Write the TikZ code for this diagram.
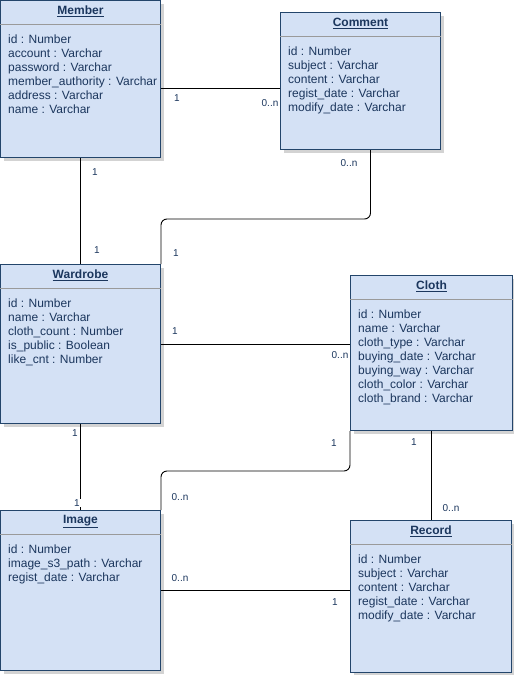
\documentclass[tikz,border=0pt]{standalone}
\usepackage{fontspec}
\setmainfont{Liberation Sans}
\usetikzlibrary{shadows}
\definecolor{boxfill}{HTML}{D4E1F5}
\definecolor{boxline}{HTML}{23456B}
\definecolor{ink}{HTML}{1B365D}
\definecolor{rulegray}{HTML}{9A9A9A}
\tikzset{
  entity/.style={draw=boxline, fill=boxfill, line width=1pt, anchor=north west,
    inner sep=0pt, drop shadow={shadow xshift=3pt, shadow yshift=-3pt, opacity=0.35, fill=gray}},
  etitle/.style={anchor=center, font=\fontsize{12}{14}\selectfont\bfseries, text=ink, inner sep=0pt},
  attrs/.style={anchor=north west, align=left, font=\fontsize{12}{14}\selectfont, text=ink, inner sep=0pt},
  divider/.style={draw=rulegray, line width=0.8pt},
  link/.style={draw=black, line width=0.9pt, rounded corners=6pt},
  mult/.style={font=\fontsize{10}{12}\selectfont, text=ink, inner sep=0pt},
}
% entity box: name, x, y, width, height, title, attribute lines
\newcommand\erbox[7]{%
  \node[entity, minimum width=#4pt, minimum height=#5pt] (#1) at (#2,#3) {};
  \draw[divider] ([yshift=-24pt]#1.north west) -- ([yshift=-24pt]#1.north east);
  \node[etitle] (#1-title) at ([yshift=-11.5pt]#1.north) {\underline{#6}};
  \node[attrs] (#1-attrs) at ([xshift=8pt,yshift=-35pt]#1.north west) {#7};
}
\begin{document}
\begin{tikzpicture}[x=1pt,y=-1pt]
\useasboundingbox (0,0) rectangle (514,675);

\erbox{member}{0}{0}{160}{157}{Member}{id : Number\\account : Varchar\\password : Varchar\\member\_authority : Varchar\\address : Varchar\\name : Varchar}
\erbox{comment}{280}{12}{160}{137}{Comment}{id : Number\\subject : Varchar\\content : Varchar\\regist\_date : Varchar\\modify\_date : Varchar}
\erbox{wardrobe}{0}{264}{160}{159}{Wardrobe}{id : Number\\name : Varchar\\cloth\_count : Number\\is\_public : Boolean\\like\_cnt : Number}
\erbox{cloth}{350}{275}{162}{155}{Cloth}{id : Number\\name : Varchar\\cloth\_type : Varchar\\buying\_date : Varchar\\buying\_way : Varchar\\cloth\_color : Varchar\\cloth\_brand : Varchar}
\erbox{image}{0}{510}{160}{160}{Image}{id : Number\\image\_s3\_path : Varchar\\regist\_date : Varchar}
\erbox{record}{350}{520}{161}{152}{Record}{id : Number\\subject : Varchar\\content : Varchar\\regist\_date : Varchar\\modify\_date : Varchar}

% relationships
\coordinate (m1) at ([yshift=-88pt]member.north east);
\draw[link] (m1) -- (m1 -| comment.west);
\draw[link] (member.south) -- (wardrobe.north);
\draw[link] ([xshift=10pt]comment.south) -- ++(0,69) -| (wardrobe.north east);
\coordinate (w1) at ([yshift=-80pt]wardrobe.north east);
\draw[link] (w1) -- (w1 -| cloth.west);
\draw[link] (cloth.south west) -- ++(0,40) -| (image.north east);
\draw[link] (wardrobe.south) -- (image.north);
\draw[link] (cloth.south) -- (cloth.south |- record.north);
\coordinate (i1) at ([yshift=-80pt]image.north east);
\draw[link] (i1) -- (i1 -| record.west);

% multiplicities
\node[mult] (l1) at (177,98) {1};
\node[mult] (l2) at (270,103) {0..n};
\node[mult] (l3) at (95,172) {1};
\node[mult] (l4) at (97,250) {1};
\node[mult] (l5) at (349,163) {0..n};
\node[mult] (l6) at (176,253) {1};
\node[mult] (l7) at (175,331) {1};
\node[mult] (l8) at (340,355) {0..n};
\node[mult] (l9) at (334,443) {1};
\node[mult] (l10) at (180,497) {0..n};
\node[mult] (l11) at (75,433) {1};
\node[mult, fill=white, inner sep=1pt] (l12) at (77,503) {1};
\node[mult] (l13) at (414,442) {1};
\node[mult] (l14) at (451,508) {0..n};
\node[mult] (l15) at (180,578) {0..n};
\node[mult] (l16) at (335,602) {1};
\end{tikzpicture}
\end{document}
